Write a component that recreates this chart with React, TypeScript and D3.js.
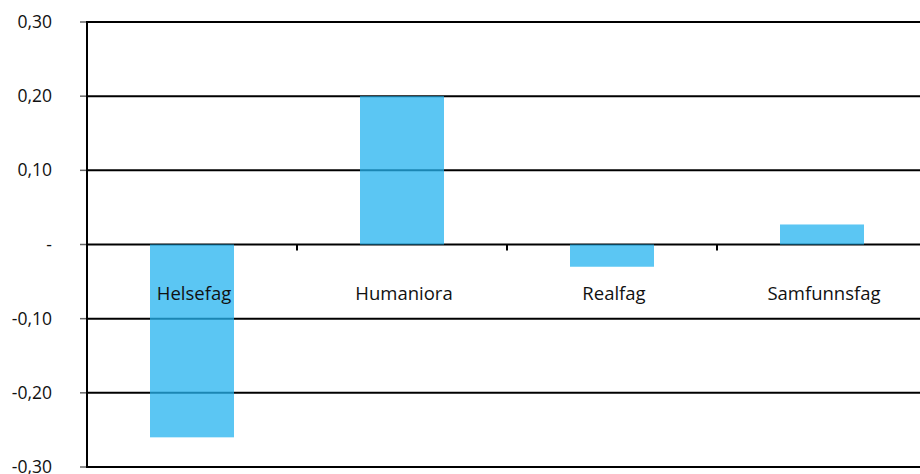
import React from 'react';
import * as d3 from 'd3';

const WIDTH = 920;
const HEIGHT = 474;

const categories = ['Helsefag', 'Humaniora', 'Realfag', 'Samfunnsfag'];
const values = [-0.26, 0.2, -0.03, 0.027];
const yTicks = [-0.3, -0.2, -0.1, 0, 0.1, 0.2, 0.3];

const margin = { l: 87, t: 22, b: 7 };
const plotRight = 927;

const fmt = (d: number) => (Math.abs(d) < 1e-9 ? '-' : d.toFixed(2).replace('.', ','));

const App = () => {
  const xScale = d3
    .scaleBand<string>()
    .domain(categories)
    .range([margin.l, plotRight])
    .paddingInner(0.6)
    .paddingOuter(0.3);

  const yScale = d3
    .scaleLinear()
    .domain([-0.3, 0.3])
    .range([HEIGHT - margin.b, margin.t]);

  const y0 = yScale(0);
  const step = xScale.step();

  return (
    <svg
      width={WIDTH}
      height={HEIGHT}
      style={{ position: 'absolute', left: 0, top: 0, display: 'block' }}
      fontFamily="'Open Sans', sans-serif"
    >
      <rect width={WIDTH} height={HEIGHT} fill="#fff" />
      {/* grid */}
      {yTicks.map((t) => (
        <g key={`g-${t}`}>
          <line x1={margin.l} x2={WIDTH} y1={yScale(t)} y2={yScale(t)} stroke="#000" strokeWidth={2} />
          <line x1={80} x2={margin.l} y1={yScale(t)} y2={yScale(t)} stroke="#666" strokeWidth={1.5} />
          <text
            x={52}
            y={yScale(t)}
            dy="0.35em"
            textAnchor="end"
            fontSize={17.5}
            fill="#111"
          >
            {fmt(t)}
          </text>
        </g>
      ))}
      {/* bars */}
      {categories.map((c, i) => {
        const v = values[i];
        return (
          <rect
            key={c}
            x={xScale(c)}
            width={xScale.bandwidth()}
            y={yScale(Math.max(0, v))}
            height={Math.abs(yScale(v) - y0)}
            fill="rgb(36,179,239)"
            fillOpacity={0.75}
          />
        );
      })}
      {/* category ticks */}
      {categories.slice(1).map((c) => (
        <line
          key={`t-${c}`}
          x1={(xScale(c) as number) - step * 0.3}
          x2={(xScale(c) as number) - step * 0.3}
          y1={y0}
          y2={y0 + 6}
          stroke="#000"
          strokeWidth={2}
        />
      ))}
      <line x1={margin.l} x2={margin.l} y1={margin.t - 1} y2={HEIGHT - margin.b + 1} stroke="#000" strokeWidth={2} />
      {/* labels */}
      {categories.map((c) => (
        <text
          key={`l-${c}`}
          x={(xScale(c) as number) + xScale.bandwidth() / 2 + 2}
          y={300}
          textAnchor="middle"
          fontSize={18.5}
          fill="#111"
        >
          {c}
        </text>
      ))}
    </svg>
  );
};

export default App;
